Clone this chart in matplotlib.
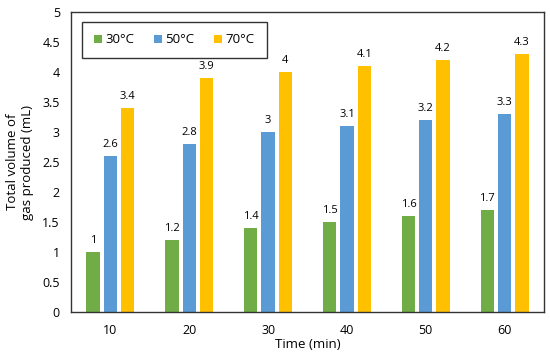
import matplotlib.pyplot as plt
import numpy as np

plt.rcParams['font.family'] = ['Open Sans', 'DejaVu Sans']

times = ['10', '20', '30', '40', '50', '60']
series_names = ['30°C', '50°C', '70°C']
v30 = [1, 1.2, 1.4, 1.5, 1.6, 1.7]
v50 = [2.6, 2.8, 3, 3.1, 3.2, 3.3]
v70 = [3.4, 3.9, 4, 4.1, 4.2, 4.3]
colors = ['#70AD47', '#5B9BD5', '#FFC000']

fig = plt.figure(figsize=(5.5, 3.56), dpi=100)
ax = fig.add_axes([71 / 550, 1 - 312 / 356, (544 - 71) / 550, (312 - 12) / 356])

x = np.arange(len(times))
w = 0.17
step = 0.22
for i, (vals, name) in enumerate(zip([v30, v50, v70], series_names)):
    pos = x + (i - 1) * step
    ax.bar(pos, vals, width=w, color=colors[i], label=name)
    for xp, v in zip(pos, vals):
        ax.text(xp, v + 0.1, f'{v:g}', ha='center', va='bottom', fontsize=8)

ax.set_xlim(-0.5, 5.5)
ax.set_ylim(0, 5)
ticks = np.arange(0, 5.01, 0.5)
ax.set_yticks(ticks)
ax.set_yticklabels([f'{t:g}' for t in ticks])
ax.set_xticks(x)
ax.set_xticklabels(times)
ax.tick_params(length=0, labelsize=9, pad=8)
ax.tick_params(axis='x', pad=9)
for s in ax.spines.values():
    s.set_color('#333333')
    s.set_linewidth(1.0)

ax.set_xlabel('Time (min)', fontsize=9.5, labelpad=0)
ax.set_ylabel('Total volume of\ngas produced (mL)', fontsize=9.5, labelpad=6)

leg = ax.legend(loc='upper left', ncol=3, fontsize=9.5, frameon=True, fancybox=False,
                edgecolor='black', borderpad=0.9, handlelength=0.6, handleheight=0.6,
                columnspacing=1.5, handletextpad=0.25, bbox_to_anchor=(0.01, 0.99))
leg.get_frame().set_linewidth(1.0)

fig.savefig('out.png', dpi=100)
